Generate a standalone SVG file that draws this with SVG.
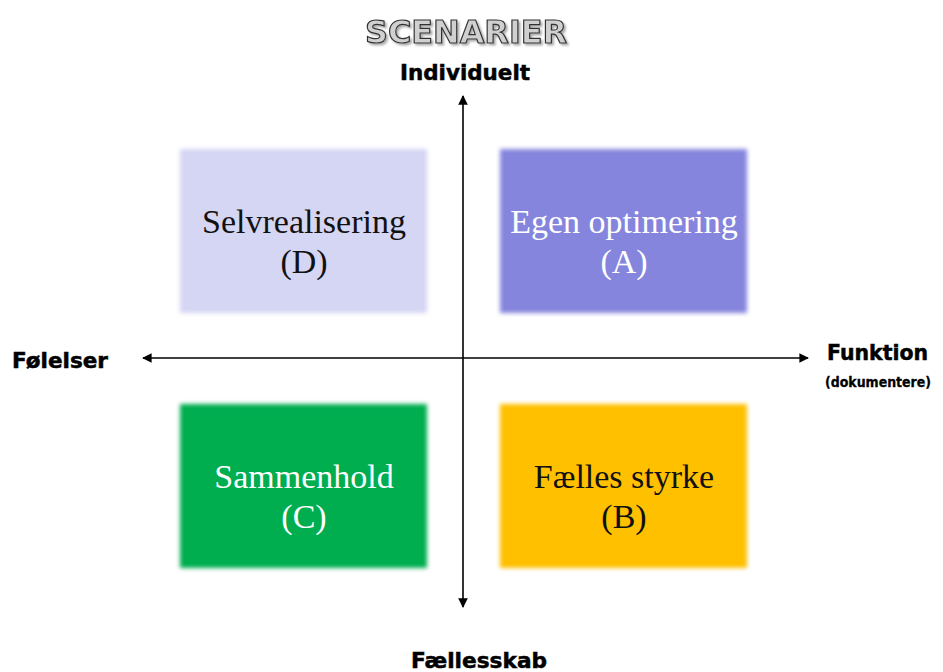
<svg xmlns="http://www.w3.org/2000/svg" width="943" height="672" viewBox="0 0 943 672">
<style>
.lbl{font-family:"Liberation Serif","Times New Roman",serif;font-size:34px;text-anchor:middle}
.ax{font-family:"DejaVu Sans","Liberation Sans",sans-serif;font-weight:bold;fill:#000;stroke:#000;stroke-width:0.5}
.axis{stroke:#000;stroke-width:1.6;fill:none}
</style>
<defs>
<filter id="soft" x="-5%" y="-5%" width="110%" height="110%"><feGaussianBlur stdDeviation="2"/></filter>
<filter id="shadow" x="-10%" y="-30%" width="120%" height="160%"><feDropShadow dx="2" dy="2" stdDeviation="1" flood-color="#888" flood-opacity="0.7"/></filter>
<marker id="ah" viewBox="0 0 10 10" refX="9" refY="5" markerWidth="6" markerHeight="6" orient="auto" markerUnits="strokeWidth"><path d="M0,0 L10,5 L0,10 z" fill="#000"/></marker>
</defs>
<rect width="943" height="672" fill="#fff"/>
<text x="466" y="43" font-family="DejaVu Sans, sans-serif" font-weight="bold" font-size="32" text-anchor="middle" textLength="202" lengthAdjust="spacingAndGlyphs" fill="#d0d0d0" stroke="#333" stroke-width="1.2" filter="url(#shadow)">SCENARIER</text>
<g id="axes">
<line class="axis" x1="463" y1="358" x2="463" y2="96" marker-end="url(#ah)"/>
<line class="axis" x1="463" y1="358" x2="463" y2="607" marker-end="url(#ah)"/>
<line class="axis" x1="463" y1="358" x2="808" y2="358" marker-end="url(#ah)"/>
<line class="axis" x1="463" y1="358" x2="143" y2="358" marker-end="url(#ah)"/>
</g>
<g id="nodeD"><rect x="180" y="149" width="247" height="164" fill="#d5d5f4" filter="url(#soft)"/><text class="lbl" x="304" y="233" fill="#111">Selvrealisering</text><text class="lbl" x="304" y="273" fill="#111">(D)</text></g>
<g id="nodeA"><rect x="500" y="149" width="247" height="164" fill="#8585dd" filter="url(#soft)"/><text class="lbl" x="624" y="233" fill="#fff">Egen optimering</text><text class="lbl" x="624" y="273" fill="#fff">(A)</text></g>
<g id="nodeC"><rect x="180" y="404" width="247" height="164" fill="#00ad4f" filter="url(#soft)"/><text class="lbl" x="304" y="488" fill="#fff">Sammenhold</text><text class="lbl" x="304" y="528" fill="#fff">(C)</text></g>
<g id="nodeB"><rect x="500" y="404" width="247" height="164" fill="#ffc000" filter="url(#soft)"/><text class="lbl" x="624" y="488" fill="#111">Fælles styrke</text><text class="lbl" x="624" y="528" fill="#111">(B)</text></g>
<g id="labels">
<text class="ax" x="465" y="80" font-size="21" text-anchor="middle" textLength="130" lengthAdjust="spacingAndGlyphs">Individuelt</text>
<text class="ax" x="12" y="368" font-size="21" textLength="96" lengthAdjust="spacingAndGlyphs">Følelser</text>
<text class="ax" x="827" y="360" font-size="21" textLength="101" lengthAdjust="spacingAndGlyphs">Funktion</text>
<text class="ax" x="825" y="387" font-size="14" textLength="106" lengthAdjust="spacingAndGlyphs" style="stroke-width:0.3">(dokumentere)</text>
<text class="ax" x="479" y="668" font-size="21" text-anchor="middle" textLength="136" lengthAdjust="spacingAndGlyphs">Fællesskab</text>
</g>
</svg>
